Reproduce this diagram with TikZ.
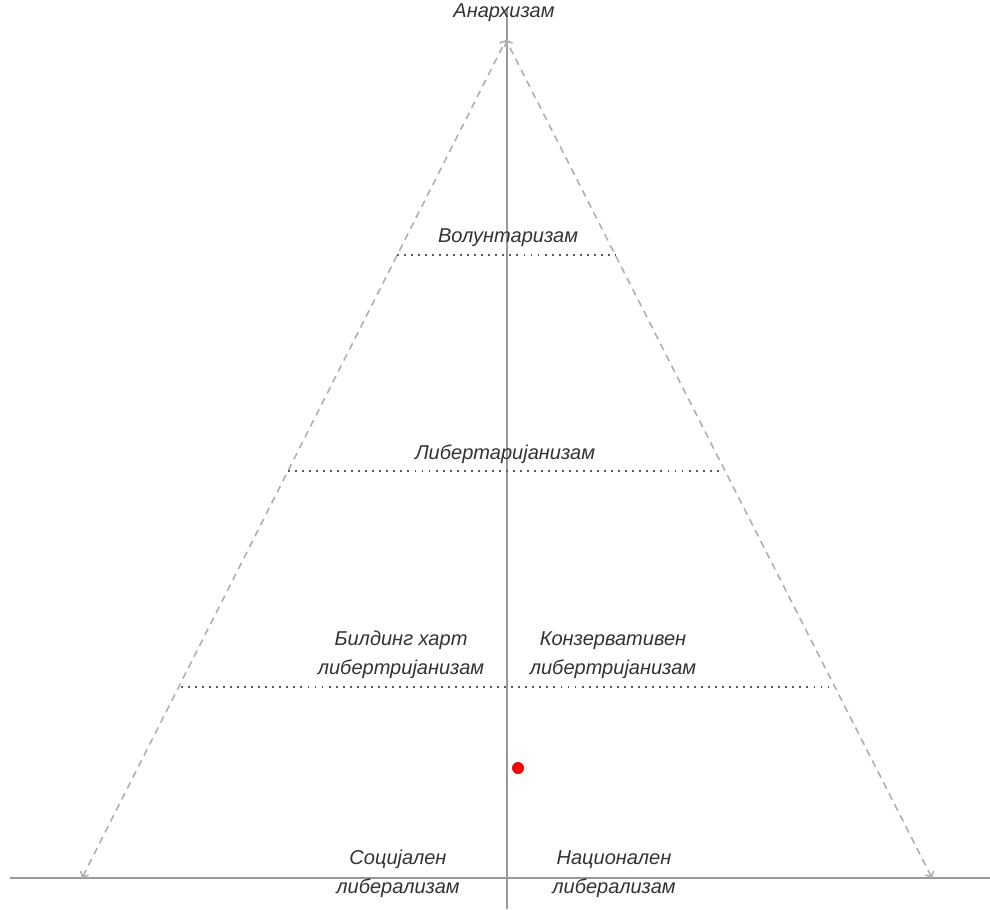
\documentclass[tikz,border=0pt]{standalone}
\usepackage{fontspec}
\setmainfont{Liberation Sans}
\usepackage{tikz}
\usetikzlibrary{arrows.meta}
\usepackage{xcolor}
\definecolor{axisgray}{HTML}{9A9A9A}
\definecolor{edgegray}{HTML}{AFAFAF}
\definecolor{labelgray}{HTML}{333333}

\begin{document}
\begin{tikzpicture}[x=0.02cm,y=-0.02cm,
      axis/.style={axisgray,line width=0.8pt},
      edge/.style={edgegray,line width=0.9pt,dash pattern=on 4pt off 3pt,
                   {Straight Barb[length=0.9mm]}-{Straight Barb[length=0.9mm]}},
      level/.style={labelgray!80,line width=1pt,dash pattern=on 1.1pt off 2.9pt},
      lbl/.style={labelgray,align=center,inner sep=0pt,
                  font=\fontsize{11.4}{16.5}\selectfont\itshape}]
    \useasboundingbox (0,0) rectangle (990,909);
    \coordinate (apex) at (506,40);
    \coordinate (bl) at (82,878);
    \coordinate (br) at (932,878);
    \coordinate (ytop) at (507,8);
    \coordinate (ybot) at (507,909);
    \coordinate (xleft) at (10,878);
    \coordinate (xright) at (990,878);

    \draw[axis] (xleft) -- (xright);
    \draw[axis] (ytop) -- (ybot);
    \draw[edge] (bl) -- (apex);
    \draw[edge] (br) -- (apex);

    \coordinate (l1) at (397,255);
    \coordinate (r1) at (615,255);
    \coordinate (l2) at (288,471);
    \coordinate (r2) at (723,471);
    \coordinate (l3) at (181,687);
    \coordinate (r3) at (829,687);
    \draw[level] (l1) -- (r1);
    \draw[level] (l2) -- (r2);
    \draw[level] (l3) -- (r3);

    \node[lbl] (anarchy) at (504,13) {Анархизам};
    \node[lbl] (volunt) at (508,238) {Волунтаризам};
    \node[lbl] (libert) at (505,454) {Либертаријанизам};
    \node[lbl] (bleeding) at (401,655) {Билдинг харт\\либертријанизам};
    \node[lbl] (conserv) at (613,655) {Конзервативен\\либертријанизам};
    \node[lbl] (social) at (398,874) {Социјален\\либерализам};
    \node[lbl] (national) at (614,874) {Национален\\либерализам};

    \fill[red] (518,768) circle (6);
  \end{tikzpicture}
\end{document}
